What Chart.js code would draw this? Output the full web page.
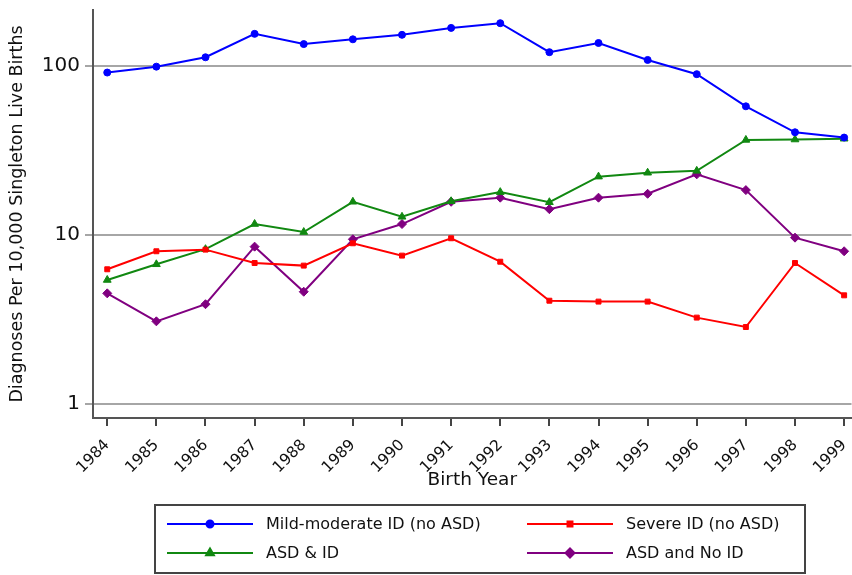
<!DOCTYPE html>
<html lang="en">
<head>
    <meta charset="UTF-8">
    <title>Diagnoses per 10,000 singleton live births</title>
    <script src="https://cdn.jsdelivr.net/npm/chart.js"></script>
    <style>
        body { margin: 0; background: #fff; overflow: hidden; }
        /* 5px wider than the window: chart.js keeps a small gap on the right of the x axis */
        #wrap { width: 857px; height: 575px; position: relative; }
    </style>
</head>
<body>
    <div id="wrap">
        <canvas id="myChart"></canvas>
    </div>
    <script>
    // values
    const years = [1984, 1985, 1986, 1987, 1988, 1989, 1990, 1991, 1992, 1993, 1994, 1995, 1996, 1997, 1998, 1999];
    const mildModerate = [91, 98.6, 112, 154, 134, 143, 152, 167, 178, 120, 136, 108, 89, 57.5, 40.4, 37.6];
    const severe = [6.27, 8.01, 8.19, 6.83, 6.59, 8.93, 7.55, 9.56, 6.95, 4.09, 4.04, 4.04, 3.25, 2.86, 6.83, 4.40];
    const asdId = [5.42, 6.71, 8.24, 11.6, 10.4, 15.7, 12.8, 15.8, 17.9, 15.6, 22.1, 23.3, 23.9, 36.4, 36.6, 37.0];
    const asdNoId = [4.52, 3.09, 3.90, 8.53, 4.62, 9.43, 11.6, 15.7, 16.6, 14.2, 16.6, 17.5, 22.8, 18.4, 9.64, 8.01];
    const yTicks = [1, 10, 100];

    const font = '"DejaVu Sans", sans-serif';

    function series(label, values, color, pointStyle, radius) {
        return {
            label: label,
            data: years.map((yr, i) => ({ x: yr, y: values[i] })),
            borderColor: color,
            backgroundColor: color,
            borderWidth: 2,
            pointStyle: pointStyle,
            pointRadius: radius,
            pointBorderWidth: 1,
            tension: 0
        };
    }

    // legend: box with two columns, line sample with marker in the middle
    const boxLegend = {
        id: 'boxLegend',
        afterDraw(chart) {
            const ctx = chart.ctx;
            const ds = chart.data.datasets;
            ctx.save();
            ctx.strokeStyle = '#444';
            ctx.lineWidth = 2;
            ctx.strokeRect(155, 505, 650, 68);
            const slots = [
                { x: 167, y: 524 }, { x: 527, y: 524 },
                { x: 167, y: 553 }, { x: 527, y: 553 }
            ];
            ds.forEach((d, i) => {
                const s = slots[i];
                ctx.strokeStyle = d.borderColor;
                ctx.fillStyle = d.backgroundColor;
                ctx.lineWidth = 2;
                ctx.beginPath();
                ctx.moveTo(s.x, s.y);
                ctx.lineTo(s.x + 86, s.y);
                ctx.stroke();
                Chart.helpers.drawPoint(ctx, {
                    pointStyle: d.pointStyle, radius: d.pointRadius, rotation: 0, borderWidth: 1
                }, s.x + 43, s.y);
                ctx.fillStyle = '#111';
                ctx.font = '16px ' + font;
                ctx.textBaseline = 'middle';
                ctx.textAlign = 'left';
                ctx.fillText(d.label, s.x + 99, s.y + 1);
            });
            ctx.restore();
        }
    };

    const ctx = document.getElementById('myChart').getContext('2d');
    const myChart = new Chart(ctx, {
        type: 'line',
        data: {
            datasets: [
                series('Mild-moderate ID (no ASD)', mildModerate, '#0000ff', 'circle', 3.5),
                series('Severe ID (no ASD)', severe, '#ff0000', 'rect', 3.5),
                series('ASD & ID', asdId, '#118811', 'triangle', 4.5),
                series('ASD and No ID', asdNoId, '#800080', 'rectRot', 4.5)
            ]
        },
        plugins: [boxLegend],
        options: {
            responsive: true,
            maintainAspectRatio: false,
            animation: false,
            layout: { padding: { top: 10, right: 0, left: 0, bottom: 77 } },
            plugins: {
                legend: { display: false },
                tooltip: { enabled: false }
            },
            scales: {
                x: {
                    type: 'linear',
                    min: 1983.71,
                    max: 1999.15,
                    afterBuildTicks: scale => { scale.ticks = years.map(v => ({ value: v })); },
                    afterFit: scale => {
                        scale.height = 80;
                        scale.paddingLeft = 0;
                        scale.paddingRight = 0;
                    },
                    border: { display: true, color: '#555', width: 2 },
                    grid: { drawOnChartArea: false, drawTicks: true, tickLength: 8, color: '#444', lineWidth: 2 },
                    ticks: {
                        autoSkip: false,
                        maxRotation: 45,
                        minRotation: 45,
                        padding: 10,
                        color: '#111',
                        font: { family: font, size: 15.5 },
                        callback: v => String(v)
                    },
                    title: {
                        display: true,
                        text: 'Birth Year',
                        color: '#111',
                        font: { family: font, size: 18.5 },
                        padding: { top: 0, bottom: 7 }
                    }
                },
                y: {
                    type: 'logarithmic',
                    min: 0.83,
                    max: 213,
                    bounds: 'data',
                    afterBuildTicks: scale => { scale.ticks = yTicks.map(v => ({ value: v })); },
                    afterFit: scale => {
                        scale.width = 93;
                        scale.paddingTop = 0;
                        scale.paddingBottom = 0;
                    },
                    border: { display: true, color: '#555', width: 2 },
                    grid: { color: '#a6a6a6', lineWidth: 2, tickLength: 8, drawTicks: true },
                    ticks: {
                        padding: 5,
                        color: '#111',
                        font: { family: font, size: 20 },
                        callback: v => String(v)
                    },
                    title: {
                        display: true,
                        text: 'Diagnoses Per 10,000 Singleton Live Births',
                        color: '#111',
                        font: { family: font, size: 17.5 },
                        padding: { top: 7, bottom: 0 }
                    }
                }
            }
        }
    });
    </script>
</body>
</html>
